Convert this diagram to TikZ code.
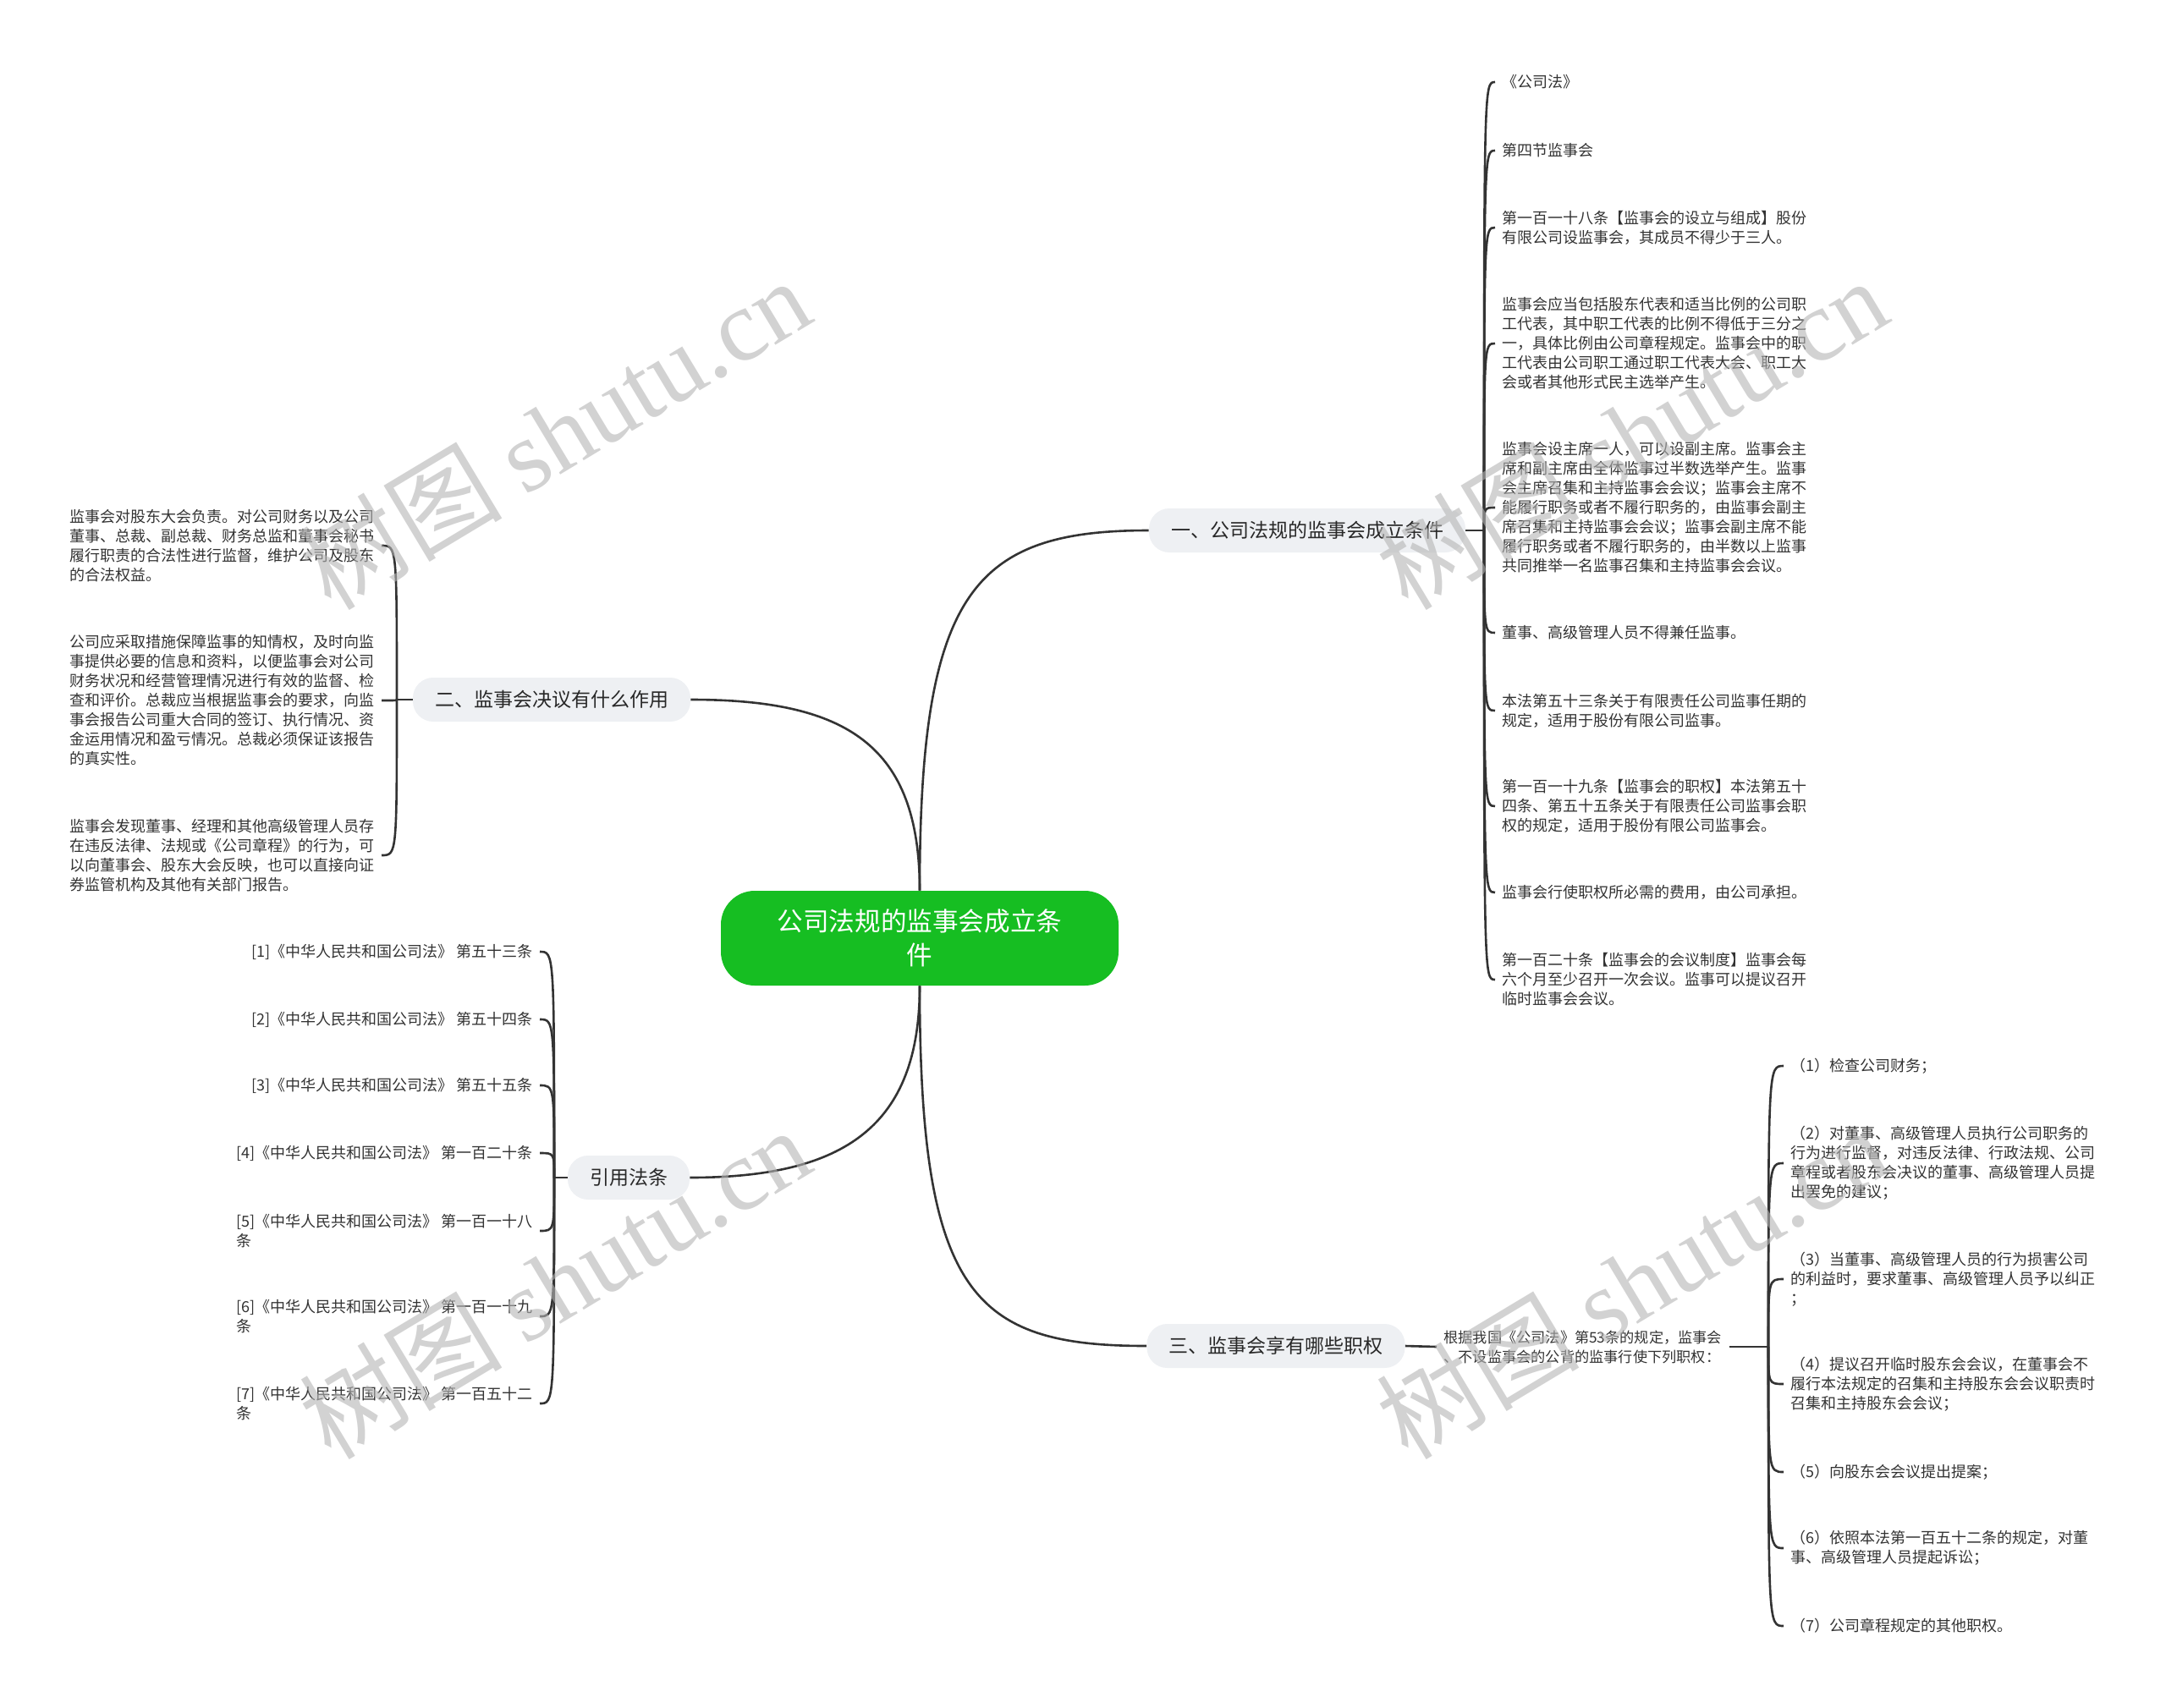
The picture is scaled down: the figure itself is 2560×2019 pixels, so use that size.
\documentclass[tikz,border=0pt]{standalone}
\usepackage{fontspec}
\setmainfont{Noto Sans CJK SC}
\newfontfamily\wmfont{Liberation Serif}
\usepackage{xcolor}
\usepackage{tikz}

\begin{document}
\begin{tikzpicture}[x=0.5pt,y=0.5pt,yscale=-1,xscale=1,
  wire/.style={draw={rgb, 255:red, 51; green, 51; blue, 51}, line width=1.3pt},
  leaf/.style={font=\fontsize{9}{11.5}\selectfont, align=left, inner xsep=4pt, inner ysep=0pt, text={rgb, 255:red, 51; green, 51; blue, 51}},
  topic/.style={fill={rgb, 255:red, 238; green, 240; blue, 243}, rounded corners=12pt, minimum height=26pt, inner xsep=13pt, font=\fontsize{11.5}{14}\selectfont, text={rgb, 255:red, 40; green, 40; blue, 40}},
  rootbox/.style={fill={rgb, 255:red, 22; green, 190; blue, 34}, rounded corners=20pt, minimum width=235pt, minimum height=56pt, align=center, font=\fontsize{15.3}{20}\selectfont, text=white},
  wmark/.style={rotate=31, text={rgb, 255:red, 180; green, 180; blue, 180}, text opacity=0.6, font=\fontsize{60}{60}\selectfont}]
\path[use as bounding box, fill=white] (0,0) rectangle (2560,2019);

% Text Node
\node[rootbox] (root) at (1087,1109) {公司法规的监事会成立条\\件};
% Text Node
\node[topic] (b1) at (1545,627) {一、公司法规的监事会成立条件};
% Text Node
\node[topic] (b2) at (652,827) {二、监事会决议有什么作用};
% Text Node
\node[topic] (b3) at (1508,1591) {三、监事会享有哪些职权};
% Text Node
\node[topic] (b4) at (743,1392) {引用法条};

%Curve Lines
\draw[wire] (root.north) .. controls (1087,700) and (1150,627) .. (b1.west);
\draw[wire] (root.north) .. controls (1087,880) and (1000,827) .. (b2.east);
\draw[wire] (root.south) .. controls (1087,1530) and (1150,1591) .. (b3.west);
\draw[wire] (root.south) .. controls (1087,1330) and (1000,1392) .. (b4.east);

% Text Node
\node[leaf, anchor=west] (r1) at (1767,97) {《公司法》};
% Text Node
\node[leaf, anchor=west] (r2) at (1767,178) {第四节监事会};
% Text Node
\node[leaf, anchor=west] (r3) at (1767,269) {第一百一十八条【监事会的设立与组成】股份\\有限公司设监事会，其成员不得少于三人。};
% Text Node
\node[leaf, anchor=west] (r4) at (1767,406) {监事会应当包括股东代表和适当比例的公司职\\工代表，其中职工代表的比例不得低于三分之\\一，具体比例由公司章程规定。监事会中的职\\工代表由公司职工通过职工代表大会、职工大\\会或者其他形式民主选举产生。};
% Text Node
\node[leaf, anchor=west] (r5) at (1767,600) {监事会设主席一人，可以设副主席。监事会主\\席和副主席由全体监事过半数选举产生。监事\\会主席召集和主持监事会会议；监事会主席不\\能履行职务或者不履行职务的，由监事会副主\\席召集和主持监事会会议；监事会副主席不能\\履行职务或者不履行职务的，由半数以上监事\\共同推举一名监事召集和主持监事会会议。};
% Text Node
\node[leaf, anchor=west] (r6) at (1767,748) {董事、高级管理人员不得兼任监事。};
% Text Node
\node[leaf, anchor=west] (r7) at (1767,840) {本法第五十三条关于有限责任公司监事任期的\\规定，适用于股份有限公司监事。};
% Text Node
\node[leaf, anchor=west] (r8) at (1767,953) {第一百一十九条【监事会的职权】本法第五十\\四条、第五十五条关于有限责任公司监事会职\\权的规定，适用于股份有限公司监事会。};
% Text Node
\node[leaf, anchor=west] (r9) at (1767,1055) {监事会行使职权所必需的费用，由公司承担。};
% Text Node
\node[leaf, anchor=west] (r10) at (1767,1158) {第一百二十条【监事会的会议制度】监事会每\\六个月至少召开一次会议。监事可以提议召开\\临时监事会会议。};

%Straight Lines
\coordinate (j1) at (1754,627);
\draw[wire] (b1.east) -- (j1);
%Curve Lines
\draw[wire] (j1) .. controls (j1 |- r1.west) .. (r1.west);
\draw[wire] (j1) .. controls (j1 |- r2.west) .. (r2.west);
\draw[wire] (j1) .. controls (j1 |- r3.west) .. (r3.west);
\draw[wire] (j1) .. controls (j1 |- r4.west) .. (r4.west);
\draw[wire] (j1) .. controls (j1 |- r5.west) .. (r5.west);
\draw[wire] (j1) .. controls (j1 |- r6.west) .. (r6.west);
\draw[wire] (j1) .. controls (j1 |- r7.west) .. (r7.west);
\draw[wire] (j1) .. controls (j1 |- r8.west) .. (r8.west);
\draw[wire] (j1) .. controls (j1 |- r9.west) .. (r9.west);
\draw[wire] (j1) .. controls (j1 |- r10.west) .. (r10.west);

% Text Node
\node[leaf, anchor=east] (l1) at (451,645) {监事会对股东大会负责。对公司财务以及公司\\董事、总裁、副总裁、财务总监和董事会秘书\\履行职责的合法性进行监督，维护公司及股东\\的合法权益。};
% Text Node
\node[leaf, anchor=east] (l2) at (451,828) {公司应采取措施保障监事的知情权，及时向监\\事提供必要的信息和资料，以便监事会对公司\\财务状况和经营管理情况进行有效的监督、检\\查和评价。总裁应当根据监事会的要求，向监\\事会报告公司重大合同的签订、执行情况、资\\金运用情况和盈亏情况。总裁必须保证该报告\\的真实性。};
% Text Node
\node[leaf, anchor=east] (l3) at (451,1011) {监事会发现董事、经理和其他高级管理人员存\\在违反法律、法规或《公司章程》的行为，可\\以向董事会、股东大会反映，也可以直接向证\\券监管机构及其他有关部门报告。};

%Straight Lines
\coordinate (j2) at (469,827);
\draw[wire] (b2.west) -- (j2);
%Curve Lines
\draw[wire] (j2) .. controls (j2 |- l1.east) .. (l1.east);
\draw[wire] (j2) .. controls (j2 |- l2.east) .. (l2.east);
\draw[wire] (j2) .. controls (j2 |- l3.east) .. (l3.east);

% Text Node
\node[leaf, anchor=east] (f1) at (638,1125) {[1]《中华人民共和国公司法》 第五十三条};
% Text Node
\node[leaf, anchor=east] (f2) at (638,1205) {[2]《中华人民共和国公司法》 第五十四条};
% Text Node
\node[leaf, anchor=east] (f3) at (638,1283) {[3]《中华人民共和国公司法》 第五十五条};
% Text Node
\node[leaf, anchor=east] (f4) at (638,1363) {[4]《中华人民共和国公司法》 第一百二十条};
% Text Node
\node[leaf, anchor=east] (f5) at (638,1455) {[5]《中华人民共和国公司法》 第一百一十八\\条};
% Text Node
\node[leaf, anchor=east] (f6) at (638,1556) {[6]《中华人民共和国公司法》 第一百一十九\\条};
% Text Node
\node[leaf, anchor=east] (f7) at (638,1659) {[7]《中华人民共和国公司法》 第一百五十二\\条};

%Straight Lines
\coordinate (j4) at (655,1392);
\draw[wire] (b4.west) -- (j4);
%Curve Lines
\draw[wire] (j4) .. controls (j4 |- f1.east) .. (f1.east);
\draw[wire] (j4) .. controls (j4 |- f2.east) .. (f2.east);
\draw[wire] (j4) .. controls (j4 |- f3.east) .. (f3.east);
\draw[wire] (j4) .. controls (j4 |- f4.east) .. (f4.east);
\draw[wire] (j4) .. controls (j4 |- f5.east) .. (f5.east);
\draw[wire] (j4) .. controls (j4 |- f6.east) .. (f6.east);
\draw[wire] (j4) .. controls (j4 |- f7.east) .. (f7.east);

% Text Node
\node[leaf, anchor=west, font=\fontsize{8.6}{11.5}\selectfont] (c3) at (1698,1592) {根据我国《公司法》第53条的规定，监事会\\、不设监事会的公背的监事行使下列职权：};
%Straight Lines
\draw[wire] (b3.east) -- (c3.west);

% Text Node
\node[leaf, anchor=west] (p1) at (2108,1260) {（1）检查公司财务；};
% Text Node
\node[leaf, anchor=west] (p2) at (2108,1375) {（2）对董事、高级管理人员执行公司职务的\\行为进行监督，对违反法律、行政法规、公司\\章程或者股东会决议的董事、高级管理人员提\\出罢免的建议；};
% Text Node
\node[leaf, anchor=west] (p3) at (2108,1512) {（3）当董事、高级管理人员的行为损害公司\\的利益时，要求董事、高级管理人员予以纠正\\；};
% Text Node
\node[leaf, anchor=west] (p4) at (2108,1636) {（4）提议召开临时股东会会议，在董事会不\\履行本法规定的召集和主持股东会会议职责时\\召集和主持股东会会议；};
% Text Node
\node[leaf, anchor=west] (p5) at (2108,1740) {（5）向股东会会议提出提案；};
% Text Node
\node[leaf, anchor=west] (p6) at (2108,1830) {（6）依照本法第一百五十二条的规定，对董\\事、高级管理人员提起诉讼；};
% Text Node
\node[leaf, anchor=west] (p7) at (2108,1922) {（7）公司章程规定的其他职权。};

%Straight Lines
\coordinate (j3) at (2090,1592);
\draw[wire] (c3.east) -- (j3);
%Curve Lines
\draw[wire] (j3) .. controls (j3 |- p1.west) .. (p1.west);
\draw[wire] (j3) .. controls (j3 |- p2.west) .. (p2.west);
\draw[wire] (j3) .. controls (j3 |- p3.west) .. (p3.west);
\draw[wire] (j3) .. controls (j3 |- p4.west) .. (p4.west);
\draw[wire] (j3) .. controls (j3 |- p5.west) .. (p5.west);
\draw[wire] (j3) .. controls (j3 |- p6.west) .. (p6.west);
\draw[wire] (j3) .. controls (j3 |- p7.west) .. (p7.west);

% Watermark
\node[wmark] (w1) at (655,512) {树图 {\wmfont shutu.cn}};
\node[wmark] (w2) at (1928,512) {树图 {\wmfont shutu.cn}};
\node[wmark] (w3) at (655,1516) {树图 {\wmfont shutu.cn}};
\node[wmark] (w4) at (1928,1516) {树图 {\wmfont shutu.cn}};
\end{tikzpicture}
\end{document}
